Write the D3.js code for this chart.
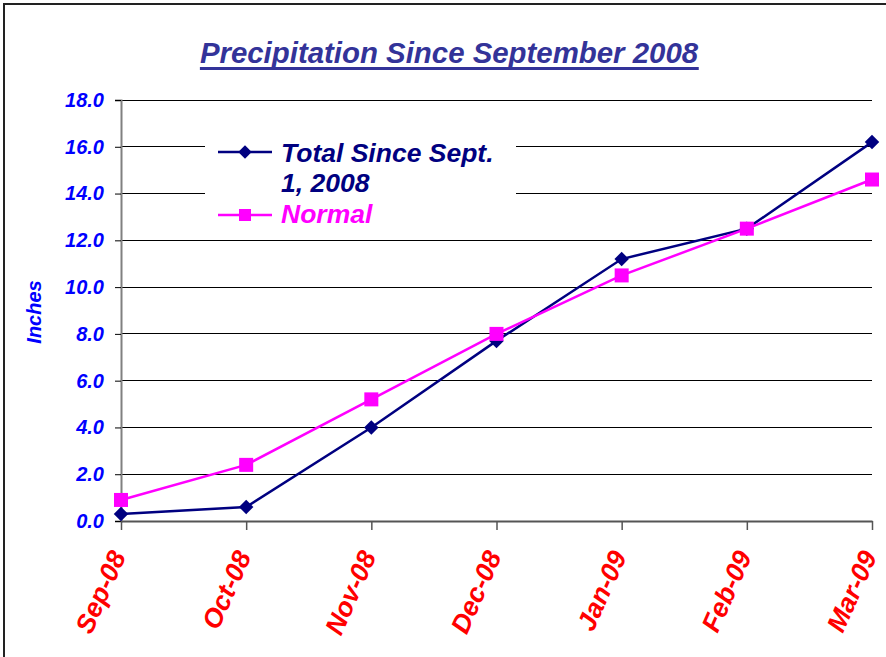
<!DOCTYPE html>
<html><head><meta charset="utf-8">
<script src="https://cdn.jsdelivr.net/npm/d3@7"></script>
<style>body{margin:0;background:#fff}svg{display:block}</style>
</head><body>
<script>
const categories = ["Sep-08","Oct-08","Nov-08","Dec-08","Jan-09","Feb-09","Mar-09"];
const totalSince = [0.3, 0.6, 4.0, 7.7, 11.2, 12.5, 16.2];
const normal = [0.9, 2.4, 5.2, 8.0, 10.5, 12.5, 14.6];
const yTicks = [0,2,4,6,8,10,12,14,16,18];
const seriesNames = ["Total Since Sept.", "1, 2008", "Normal"];

const W = 886, H = 657;
const svg = d3.select("body").append("svg").attr("width", W).attr("height", H);
const font = "'Liberation Sans', Arial, sans-serif";

svg.append("rect").attr("x",4).attr("y",4).attr("width",W+20).attr("height",H+20)
  .attr("fill","none").attr("stroke","#222").attr("stroke-width",2);

const x = d3.scalePoint().domain(categories).range([121, 872]);
const y = d3.scaleLinear().domain([0,18]).range([521, 100]);

// gridlines
svg.append("g").selectAll("line").data(yTicks.filter(d=>d>0)).join("line")
  .attr("x1",121).attr("x2",872).attr("y1",d=>y(d)).attr("y2",d=>y(d))
  .attr("stroke","#000").attr("stroke-width",1).attr("shape-rendering","crispEdges");

// y axis
const yAxis = svg.append("g").attr("transform","translate(121,0)")
  .call(d3.axisLeft(y).tickValues(yTicks).tickSize(6).tickPadding(11).tickFormat(d3.format(".1f")));
yAxis.select(".domain").attr("stroke","#808080").attr("stroke-width",2);
yAxis.selectAll(".tick line").attr("stroke","#000");
yAxis.selectAll("text").attr("fill","#0000FF").attr("font-family",font)
  .attr("font-size",20).attr("font-weight","bold").attr("font-style","italic");

// x axis
const xAxis = svg.append("g").attr("transform","translate(0,521)")
  .call(d3.axisBottom(x).tickSize(9).tickSizeOuter(0).tickPadding(0));
xAxis.select(".domain").attr("stroke","#555").attr("stroke-width",2);
xAxis.selectAll(".tick line").attr("stroke","#555").attr("stroke-width",1.5);
xAxis.selectAll("text").attr("fill","#FF0000").attr("font-family",font)
  .attr("font-size",26.5).attr("font-weight","bold").attr("font-style","italic")
  .attr("text-anchor","end").attr("y",0).attr("dy",0)
  .attr("transform","translate(5,35) rotate(-66)");

// y title
svg.append("text").attr("transform","translate(41,312) rotate(-90)")
  .attr("text-anchor","middle").attr("fill","#0000FF").attr("font-family",font)
  .attr("font-size",20).attr("font-weight","bold").attr("font-style","italic").text("Inches");

// title
const title = svg.append("text").attr("x",449).attr("y",63).attr("text-anchor","middle")
  .attr("fill","#333399").attr("font-family",font).attr("font-size",29.4)
  .attr("font-weight","bold").attr("font-style","italic").text("Precipitation Since September 2008");
const tb = title.node().getBBox();
svg.append("rect").attr("x",tb.x).attr("y",67).attr("width",tb.width).attr("height",3).attr("fill","#333399");

// legend background
const lg = svg.append("g");
lg.append("rect").attr("x",205).attr("y",122).attr("width",311).attr("height",112).attr("fill","#fff");

const line = d3.line().x((d,i)=>x(categories[i])).y(d=>y(d));

// Total series
svg.append("path").datum(totalSince).attr("d",line).attr("fill","none")
  .attr("stroke","#000080").attr("stroke-width",2.5);
svg.append("g").selectAll("path").data(totalSince).join("path")
  .attr("d", d3.symbol().type(d3.symbolSquare).size(105))
  .attr("transform",(d,i)=>`translate(${x(categories[i])},${y(d)}) rotate(45)`)
  .attr("fill","#000080");

// Normal series
svg.append("path").datum(normal).attr("d",line).attr("fill","none")
  .attr("stroke","#FF00FF").attr("stroke-width",2.5);
svg.append("g").selectAll("rect").data(normal).join("rect")
  .attr("x",(d,i)=>x(categories[i])-7).attr("y",d=>y(d)-7)
  .attr("width",14).attr("height",14).attr("fill","#FF00FF");

// legend items
lg.append("line").attr("x1",218).attr("x2",272).attr("y1",152).attr("y2",152).attr("stroke","#000080").attr("stroke-width",2.5);
lg.append("path").attr("d", d3.symbol().type(d3.symbolSquare).size(90)).attr("transform","translate(245,152) rotate(45)").attr("fill","#000080");
lg.append("line").attr("x1",218).attr("x2",272).attr("y1",215).attr("y2",215).attr("stroke","#FF00FF").attr("stroke-width",2.5);
lg.append("rect").attr("x",239).attr("y",209).attr("width",12).attr("height",12).attr("fill","#FF00FF");
const lt = [[seriesNames[0],162,"#000080"],[seriesNames[1],192,"#000080"],[seriesNames[2],223,"#FF00FF"]];
lg.selectAll("text").data(lt).join("text").attr("x",281).attr("y",d=>d[1]).attr("fill",d=>d[2])
  .attr("font-family",font).attr("font-size",26.5).attr("font-weight","bold").attr("font-style","italic").text(d=>d[0]);
</script>
</body></html>
